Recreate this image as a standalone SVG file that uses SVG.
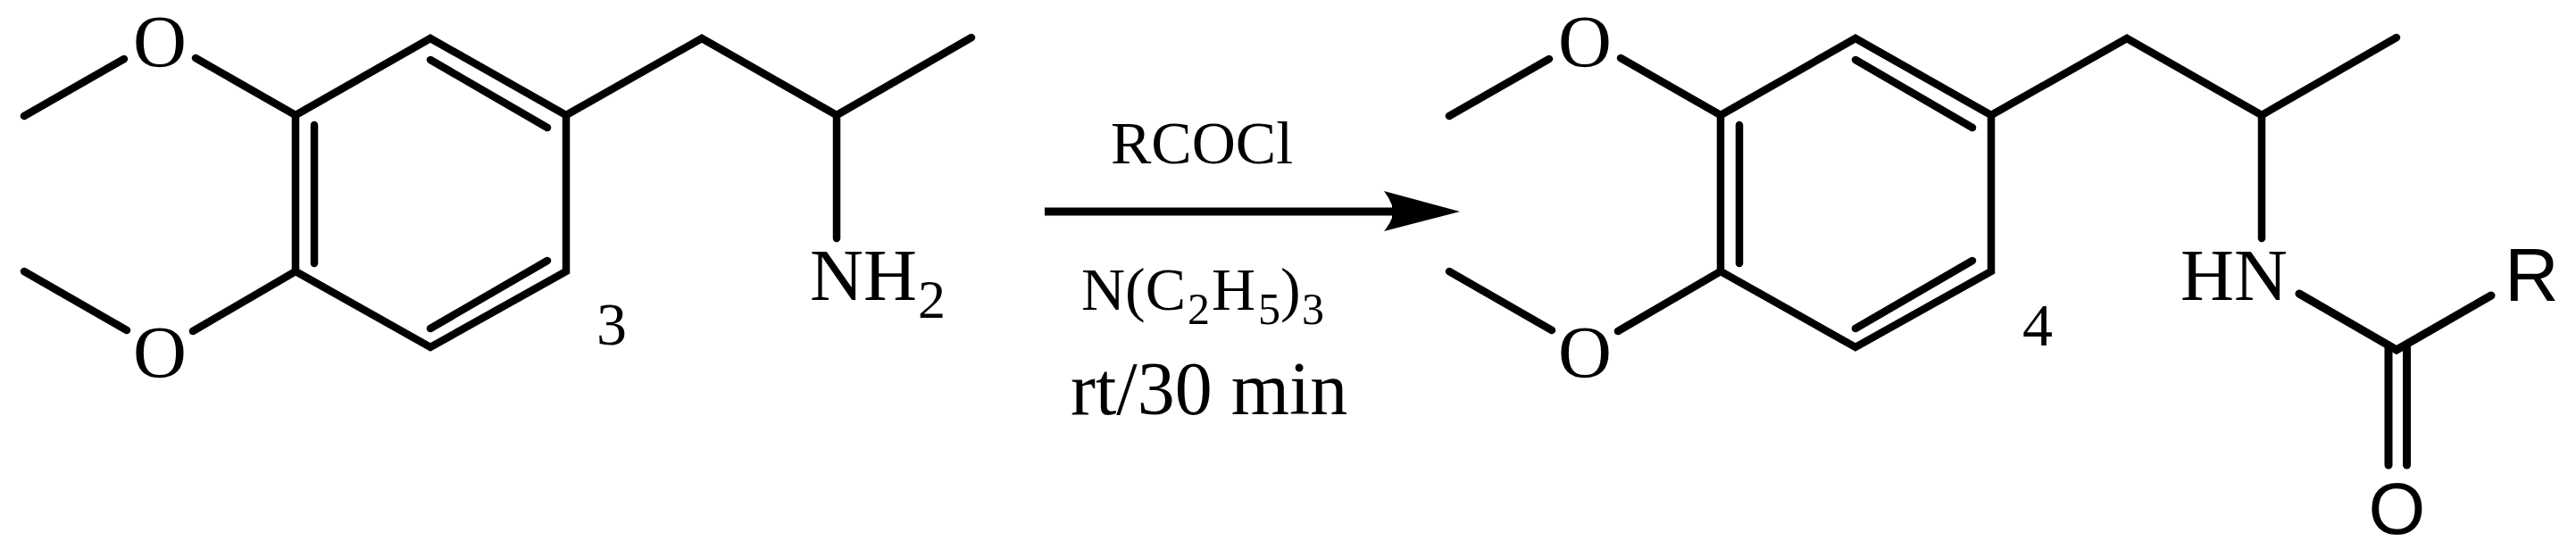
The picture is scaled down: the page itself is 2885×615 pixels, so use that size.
<svg xmlns="http://www.w3.org/2000/svg" width="2885" height="615" viewBox="0 0 2885 615">
<style>
.b{fill:none;stroke:#000;stroke-width:8.500;stroke-linecap:round;stroke-linejoin:miter}
.c{stroke-width:9}
text{fill:#000;font-family:"Liberation Serif","Times New Roman",serif}
.a{font-size:83px}
.s{font-size:62px}
.r{font-size:68px}
.n{font-size:68px}
.x{font-size:50px}
.t{font-size:84px}
.h{font-family:"Liberation Sans",Arial,sans-serif}
.m{text-anchor:middle}
</style>
<rect width="2885" height="615" fill="#fff"/>
<defs>
<g id="skeleton">
<path class="b" d="M331 129L482 43L634 129L634 304L482 389L331 304Z"/>
<path class="b" d="M352 140V295M482 67L613 143M613 292L482 368"/>
<path class="b" d="M27 130L139 66M219 65L331 129M27 304L142 370M216 371L331 304"/>
<path class="b" d="M634 129L786 43L937 129L1088 42M937 129V267"/>
</g>
</defs>
<g id="connectors">
<use href="#skeleton"/>
<use href="#skeleton" x="1596"/>
<path class="b c" d="M2575 329L2684 392L2790 331"/>
<path class="b c" d="M2675 387V521M2695.500 387V521"/>
<path d="M1170 232.500H1570V241.500H1170Z" fill="#000"/>
<path d="M1635 237L1550 214Q1556 222 1559 230V244Q1556 252 1550 259Z" fill="#000"/>
</g>
<g id="compound-3-o-upper"><text class="a m" x="179" y="74">O</text></g>
<g id="compound-3-o-lower"><text class="a m" x="179" y="422">O</text></g>
<g id="compound-3-amine"><text class="a" x="907" y="336">NH</text><text class="s" x="1028" y="356">2</text></g>
<g id="compound-3-label"><text class="n" x="668" y="386">3</text></g>
<g id="reagent-rcocl"><text class="r" x="1244" y="183">RCOCl</text></g>
<g id="reagent-base"><text class="r" x="1211" y="347">N(C</text><text class="x" x="1330" y="363">2</text><text class="r" x="1357" y="347">H</text><text class="x" x="1409" y="363">5</text><text class="r" x="1434" y="347">)</text><text class="x" x="1458" y="363">3</text></g>
<g id="conditions"><text class="t" x="1199" y="464">rt/30 min</text></g>
<g id="compound-4-o-upper"><text class="a m" x="1775" y="74">O</text></g>
<g id="compound-4-o-lower"><text class="a m" x="1775" y="422">O</text></g>
<g id="compound-4-amide-n"><text class="a" x="2442" y="336">HN</text></g>
<g id="compound-4-label"><text class="n" x="2265" y="387">4</text></g>
<g id="compound-4-r"><text class="h" font-size="84" x="2805" y="337">R</text></g>
<g id="compound-4-o-carbonyl"><text class="h m" font-size="82" x="2684.500" y="598">O</text></g>
</svg>
